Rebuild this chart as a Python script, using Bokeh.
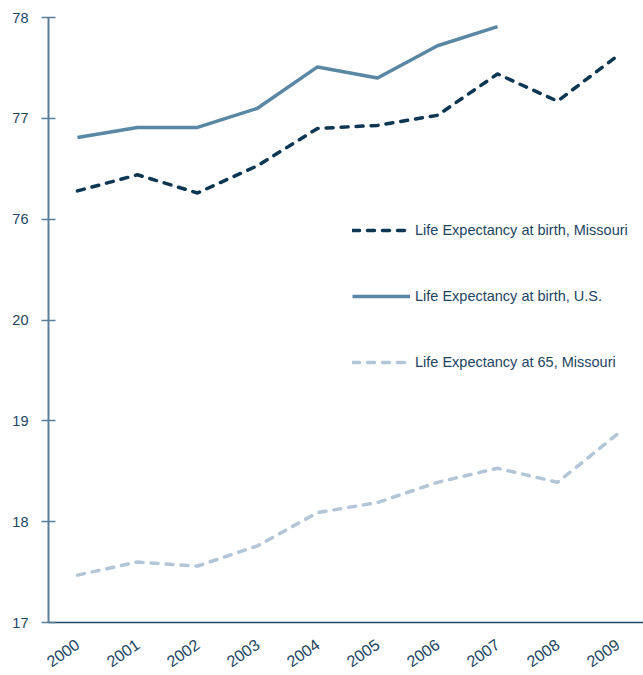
import math
from bokeh.plotting import figure
from bokeh.models import FixedTicker, Range1d, Legend, LegendItem
from bokeh.embed import file_html
from bokeh.resources import INLINE

# ---- data ----
years = [2000, 2001, 2002, 2003, 2004, 2005, 2006, 2007, 2008, 2009]
us_years = [2000, 2001, 2002, 2003, 2004, 2005, 2006, 2007]
mo_birth = [76.28, 76.44, 76.26, 76.53, 76.90, 76.93, 77.03, 77.44, 77.17, 77.62]
us_birth = [76.81, 76.91, 76.91, 77.10, 77.51, 77.40, 77.72, 77.91]
mo_65 = [17.47, 17.60, 17.56, 17.76, 18.09, 18.19, 18.39, 18.53, 18.39, 18.87]
y_tick_positions = [17, 18, 19, 20, 21, 22, 23]
y_tick_labels = ["17", "18", "19", "20", "76", "77", "78"]
year_labels = [str(y) for y in years]
series_names = ["Life Expectancy at birth, Missouri",
                "Life Expectancy at birth, U.S.",
                "Life Expectancy at 65, Missouri"]

# broken axis: the "at birth" values share the axis, shifted so 76 sits at 21
BIRTH_OFFSET = 55

FONT = "Liberation Sans"
TEXT = "#1d4563"
C_MO = "#0d3652"
C_US = "#5a87a4"
C_65 = "#b2c6d7"

p = figure(width=643, height=675, output_backend="svg", toolbar_location=None,
           x_range=Range1d(1999.517, 2009.433), y_range=Range1d(17, 23),
           min_border_top=17, min_border_left=48, min_border_right=0,
           min_border_bottom=53)
p.outline_line_color = None
p.xgrid.visible = False
p.ygrid.visible = False
p.background_fill_color = "white"
p.border_fill_color = "white"

r_mo = p.line(years, [v - BIRTH_OFFSET for v in mo_birth], line_color=C_MO,
              line_width=3.5, line_dash="7 8", line_cap="round", line_join="round")
r_us = p.line(us_years, [v - BIRTH_OFFSET for v in us_birth], line_color=C_US,
              line_width=3.5, line_join="round")
r_65 = p.line(years, mo_65, line_color=C_65, line_width=3.5, line_dash="7 8",
              line_cap="round", line_join="round")

# y axis
ya = p.yaxis[0]
ya.ticker = FixedTicker(ticks=y_tick_positions)
ya.major_label_overrides = {t: l for t, l in zip(y_tick_positions, y_tick_labels)}
ya.axis_line_color = "#5b7f98"
ya.axis_line_width = 2
ya.major_tick_line_color = "#5b7f98"
ya.major_tick_line_width = 1.5
ya.major_tick_in = 7
ya.major_tick_out = 7
ya.minor_tick_line_color = None
ya.major_label_standoff = 13
ya.major_label_text_font = FONT
ya.major_label_text_font_size = "14.5px"
ya.major_label_text_color = TEXT

# x axis
xa = p.xaxis[0]
xa.ticker = FixedTicker(ticks=years)
xa.major_label_overrides = {y: l for y, l in zip(years, year_labels)}
xa.axis_line_color = "#1d4561"
xa.axis_line_width = 1.5
xa.major_tick_line_color = None
xa.major_tick_in = 0
xa.major_tick_out = 0
xa.minor_tick_line_color = None
xa.major_label_orientation = math.radians(35)
xa.major_label_standoff = 20
xa.major_label_text_font = FONT
xa.major_label_text_font_size = "16px"
xa.major_label_text_color = TEXT

legend = Legend(items=[LegendItem(label=series_names[0], renderers=[r_mo]),
                       LegendItem(label=series_names[1], renderers=[r_us]),
                       LegendItem(label=series_names[2], renderers=[r_65])],
                location=(304, 250), orientation="vertical",
                glyph_width=58, glyph_height=20, label_height=20,
                label_standoff=5, spacing=46, padding=0, margin=0,
                border_line_color=None, background_fill_alpha=0,
                label_text_font=FONT, label_text_font_size="14.5px",
                label_text_color=TEXT)
p.add_layout(legend, "center")

open("out.html", "w").write(file_html(p, INLINE))
